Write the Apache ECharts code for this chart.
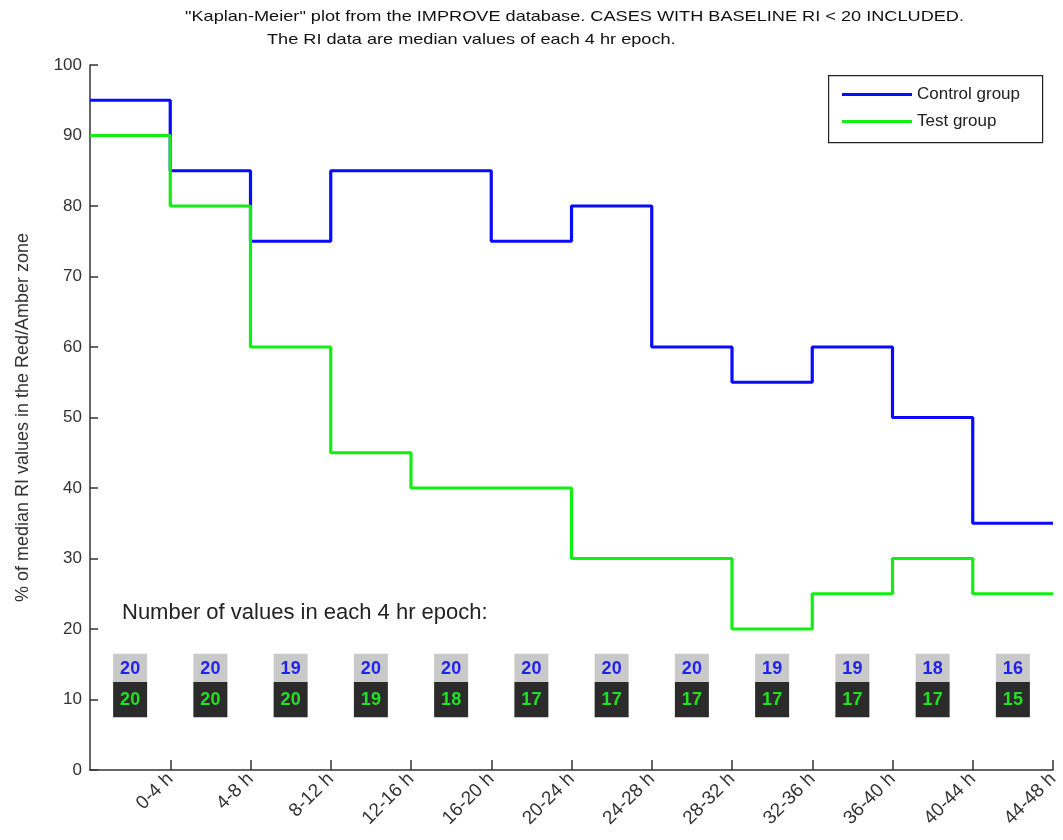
<!DOCTYPE html>
<html>
<head>
<meta charset="utf-8">
<script src="https://cdn.jsdelivr.net/npm/echarts@6/dist/echarts.min.js"></script>
<style>
  html, body { margin: 0; padding: 0; background: #fff; }
  #chart { width: 1063px; height: 840px; }
</style>
</head>
<body>
<div id="chart"></div>
<script>
// Epoch labels (each 4 h epoch, labelled at its end)
const epochLabels = ['0-4 h', '4-8 h', '8-12 h', '12-16 h', '16-20 h', '20-24 h',
                     '24-28 h', '28-32 h', '32-36 h', '36-40 h', '40-44 h', '44-48 h'];
// % of median RI values in the Red/Amber zone per epoch
const controlPct = [95, 85, 75, 85, 85, 75, 80, 60, 55, 60, 50, 35];
const testPct    = [90, 80, 60, 45, 40, 40, 30, 30, 20, 25, 30, 25];
// Number of values in each epoch
const controlCounts = [20, 20, 19, 20, 20, 20, 20, 20, 19, 19, 18, 16];
const testCounts    = [20, 20, 20, 19, 18, 17, 17, 17, 17, 17, 17, 15];
const epochHours = 4;

// Step points: each value holds from the start of its epoch to the end
function stepData(vals) {
  const pts = vals.map((v, i) => [i * epochHours, v]);
  pts.push([vals.length * epochHours, vals[vals.length - 1]]);
  return pts;
}

const font = 'Liberation Sans, Arial, sans-serif';
const chart = echarts.init(document.getElementById('chart'));

chart.setOption({
  animation: false,
  backgroundColor: '#ffffff',
  graphic: [
    { type: 'text', x: 185, y: 9, scaleX: 1.21,
      style: { text: '"Kaplan-Meier" plot from the IMPROVE database. CASES WITH BASELINE RI < 20 INCLUDED.',
               font: '15px ' + font, fill: '#111' } },
    { type: 'text', x: 267, y: 32, scaleX: 1.21,
      style: { text: 'The RI data are median values of each 4 hr epoch.',
               font: '15px ' + font, fill: '#111' } },
    { type: 'text', x: 122, y: 602,
      style: { text: 'Number of values in each 4 hr epoch:',
               font: '22px ' + font, fill: '#222' } },
    { type: 'rect', left: 828, top: 75, shape: { width: 214, height: 67 },
      style: { fill: '#fff', stroke: '#222', lineWidth: 1.2 } }
  ],
  legend: {
    left: 837, top: 81, orient: 'vertical', itemGap: 10,
    itemWidth: 70, itemHeight: 3, icon: 'rect',
    textStyle: { fontSize: 17, color: '#222', fontFamily: font },
    data: ['Control group', 'Test group']
  },
  grid: { left: 90, right: 10, top: 65, bottom: 70 },
  xAxis: {
    type: 'value', min: 0, max: 48, interval: 4,
    axisLine: { lineStyle: { color: '#333', width: 1.5 } },
    axisTick: { inside: true, length: 10, lineStyle: { color: '#333', width: 1.5 } },
    splitLine: { show: false },
    axisLabel: {
      rotate: 45, fontSize: 19, color: '#333', margin: 6,
      fontFamily: font,
      showMinLabel: false,
      formatter: v => (v > 0 ? epochLabels[v / epochHours - 1] : '')
    }
  },
  yAxis: {
    type: 'value', min: 0, max: 100, interval: 10,
    name: '% of median RI values in the Red/Amber zone',
    nameLocation: 'middle', nameGap: 58, nameRotate: 90,
    nameTextStyle: { fontSize: 18, color: '#333', fontFamily: font },
    axisLine: { show: true, lineStyle: { color: '#333', width: 1.5 } },
    axisTick: { show: true, inside: true, length: 8, lineStyle: { color: '#333', width: 1.5 } },
    splitLine: { show: false },
    axisLabel: { fontSize: 17, color: '#333', margin: 8, fontFamily: font }
  },
  series: [
    {
      name: 'Control group', type: 'line', step: 'end', showSymbol: false,
      color: '#0a0aff', lineStyle: { width: 3.2, color: '#0a0aff' },
      data: stepData(controlPct), z: 3
    },
    {
      name: 'Test group', type: 'line', step: 'end', showSymbol: false,
      color: '#11ee11', lineStyle: { width: 3.2, color: '#11ee11' },
      data: stepData(testPct), z: 4
    },
    {
      name: 'counts', type: 'custom',
      data: controlCounts.map((c, i) => [i * epochHours + epochHours / 2, c, testCounts[i]]),
      renderItem: function (params, api) {
        const x = api.value(0);
        const top = api.coord([x, 16.5]);
        const mid = api.coord([x, 12.5]);
        const bot = api.coord([x, 7.5]);
        const w = 34;
        return {
          type: 'group',
          children: [
            { type: 'rect', shape: { x: top[0] - w / 2, y: top[1], width: w, height: mid[1] - top[1] },
              style: { fill: '#c9c9c9' } },
            { type: 'rect', shape: { x: mid[0] - w / 2, y: mid[1], width: w, height: bot[1] - mid[1] },
              style: { fill: '#2b2b2b' } },
            { type: 'text', x: top[0], y: (top[1] + mid[1]) / 2 + 1,
              style: { text: String(api.value(1)), fill: '#2222ee',
                       font: 'bold 18px ' + font,
                       align: 'center', verticalAlign: 'middle' } },
            { type: 'text', x: mid[0], y: (mid[1] + bot[1]) / 2 + 1,
              style: { text: String(api.value(2)), fill: '#22e022',
                       font: 'bold 18px ' + font,
                       align: 'center', verticalAlign: 'middle' } }
          ]
        };
      },
      z: 2
    }
  ]
});
</script>
</body>
</html>
